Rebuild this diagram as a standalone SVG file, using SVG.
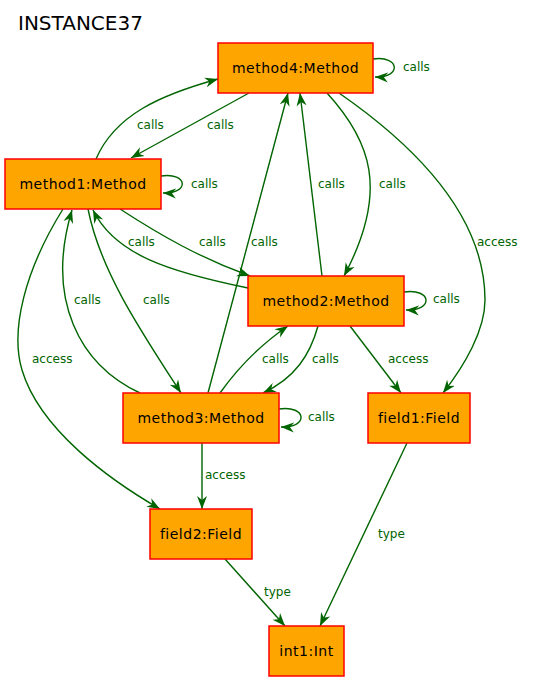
<svg xmlns="http://www.w3.org/2000/svg" width="533" height="682" viewBox="0 0 533 682">
<style>
.node rect{fill:#FFA500;stroke:#FF0000;stroke-width:1.5}
.node text{font-family:"DejaVu Sans",Verdana,sans-serif;font-size:14px;fill:#000;text-anchor:middle;letter-spacing:0.5px}
.edges path{fill:none;stroke:#006400;stroke-width:1.4;marker-end:url(#arr)}
.lbl{font-family:"DejaVu Sans",Verdana,sans-serif;font-size:12px;fill:#006400}
.title{font-family:"DejaVu Sans",Verdana,sans-serif;font-size:20px;fill:#000}
</style>
<defs>
<marker id="arr" markerUnits="userSpaceOnUse" markerWidth="14" markerHeight="12" refX="13" refY="5" orient="auto" viewBox="0 0 14 10">
<path d="M0,0 L13,5 L0,10 L4,5 Z" fill="#006400"/>
</marker>
</defs>
<rect width="533" height="682" fill="#fff"/>
<text class="title" x="18" y="30">INSTANCE37</text>
<g class="edges" id="connectors">
<path d="M373,59 C400,55 402,78 375,77"/>
<path d="M96,159 C115,115 160,95 218,79"/>
<path d="M249,93 L131,158"/>
<path d="M161,176 C188,172 190,194 163,193"/>
<path d="M120,209 C160,235 200,258 250,276"/>
<path d="M248,288 C170,272 115,255 93,210"/>
<path d="M140,393 C80,365 45,300 72,210"/>
<path d="M88,209 C100,270 140,330 181,393"/>
<path d="M208,393 L288,93"/>
<path d="M322,276 L300,93"/>
<path d="M327,93 C370,140 390,190 344,276"/>
<path d="M339,93 C450,170 485,240 485,300 C485,330 465,365 443,393"/>
<path d="M404,292 C432,288 434,311 406,310"/>
<path d="M350,326 L401,393"/>
<path d="M220,393 C240,365 260,345 288,326"/>
<path d="M318,326 C310,355 295,378 263,393"/>
<path d="M279,409 C307,405 309,428 281,427"/>
<path d="M63,209 C25,270 10,330 22,370 C40,430 110,480 160,509"/>
<path d="M202,443 L202,509"/>
<path d="M407,443 L320,626"/>
<path d="M225,559 L285,626"/>
</g>
<g id="labels">
<text class="lbl" x="403" y="71">calls</text>
<text class="lbl" x="137" y="129">calls</text>
<text class="lbl" x="207" y="129">calls</text>
<text class="lbl" x="191" y="188">calls</text>
<text class="lbl" x="199" y="246">calls</text>
<text class="lbl" x="128" y="246">calls</text>
<text class="lbl" x="74" y="304">calls</text>
<text class="lbl" x="143" y="304">calls</text>
<text class="lbl" x="251" y="246">calls</text>
<text class="lbl" x="318" y="188">calls</text>
<text class="lbl" x="379" y="188">calls</text>
<text class="lbl" x="477" y="246">access</text>
<text class="lbl" x="433" y="303">calls</text>
<text class="lbl" x="388" y="363">access</text>
<text class="lbl" x="262" y="363">calls</text>
<text class="lbl" x="312" y="363">calls</text>
<text class="lbl" x="308" y="421">calls</text>
<text class="lbl" x="32" y="363">access</text>
<text class="lbl" x="205" y="479">access</text>
<text class="lbl" x="378" y="538">type</text>
<text class="lbl" x="264" y="596">type</text>
</g>
<g class="node" id="method4"><rect x="218" y="43" width="155" height="50"/><text x="295.5" y="73">method4:Method</text></g>
<g class="node" id="method1"><rect x="5" y="159" width="156" height="50"/><text x="83" y="189">method1:Method</text></g>
<g class="node" id="method2"><rect x="248" y="276" width="156" height="50"/><text x="326" y="306">method2:Method</text></g>
<g class="node" id="method3"><rect x="123" y="393" width="156" height="50"/><text x="201" y="423">method3:Method</text></g>
<g class="node" id="field1"><rect x="368" y="393" width="102" height="50"/><text x="419" y="423">field1:Field</text></g>
<g class="node" id="field2"><rect x="150" y="509" width="102" height="50"/><text x="201" y="539">field2:Field</text></g>
<g class="node" id="int1"><rect x="269" y="626" width="75" height="50"/><text x="306.5" y="656">int1:Int</text></g>
</svg>
